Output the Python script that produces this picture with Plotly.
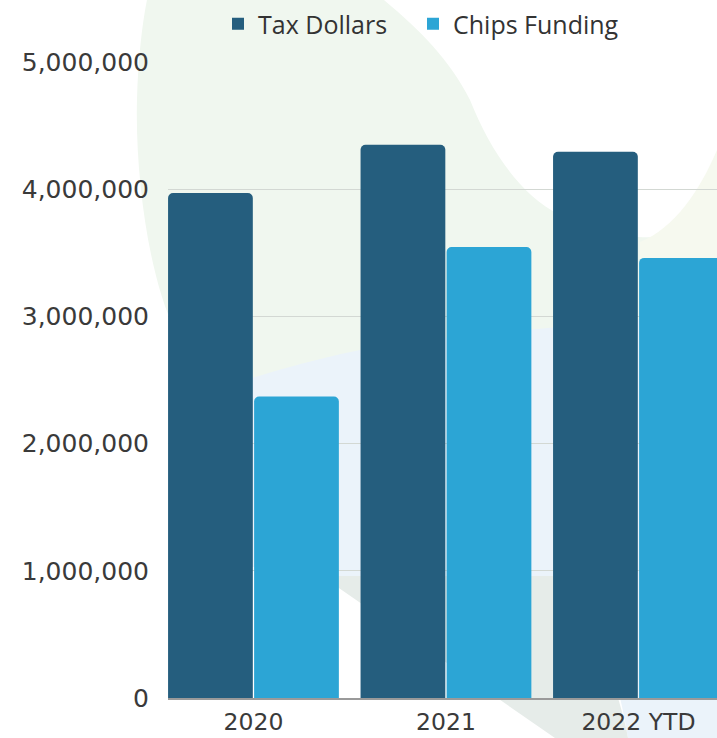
import plotly.graph_objects as go

# Yearly totals
years = ["2020", "2021", "2022 YTD"]
tax_dollars = [3970000, 4350000, 4295000]
chips_funding = [2370000, 3545000, 3460000]

y_ticks = [0, 1000000, 2000000, 3000000, 4000000, 5000000]
y_tick_labels = ["0", "1,000,000", "2,000,000", "3,000,000", "4,000,000", "5,000,000"]

series_names = ["Tax Dollars", "Chips Funding"]
series_values = [tax_dollars, chips_funding]
series_colors = ["#255E7E", "#2CA5D5"]

FIG_W, FIG_H = 717, 738
M_L, M_R, M_T, M_B = 168, 0, 62, 40
PLOT_W = FIG_W - M_L - M_R
PLOT_H = FIG_H - M_T - M_B

TEXT_COLOR = "#3A3A3A"


def blob(spec):
    """Build an SVG path in paper units from page-pixel points."""
    parts = []
    for cmd, pts in spec:
        coords = " ".join(
            f"{(x - M_L) / PLOT_W:.4f},{(FIG_H - M_B - y) / PLOT_H:.4f}" for x, y in pts
        )
        parts.append(f"{cmd}{coords}")
    return " ".join(parts) + " Z"


# Soft decorative backdrop shapes
backdrop = [
    ("#F0F7EF", [
        ("M", [(147, 0)]), ("L", [(384, 0)]),
        ("C", [(420, 30), (450, 60), (470, 100)]),
        ("C", [(490, 150), (520, 195), (560, 215)]),
        ("C", [(600, 235), (640, 240), (665, 236)]),
        ("L", [(717, 240)]), ("L", [(717, 340)]), ("L", [(230, 390)]), ("L", [(175, 330)]),
        ("C", [(150, 280), (135, 180), (137, 100)]),
        ("C", [(138, 60), (142, 25), (147, 0)]),
    ]),
    ("#F6F9EF", [
        ("M", [(640, 242)]),
        ("C", [(675, 228), (700, 190), (717, 150)]),
        ("L", [(717, 320)]), ("L", [(640, 325)]),
    ]),
    ("#EBF3FA", [
        ("M", [(200, 395)]),
        ("C", [(260, 375), (330, 352), (420, 340)]),
        ("L", [(717, 312)]), ("L", [(717, 738)]), ("L", [(628, 738)]),
        ("C", [(625, 720), (622, 705), (618, 690)]),
        ("L", [(600, 577)]), ("L", [(330, 577)]), ("L", [(200, 560)]),
    ]),
    ("#E6ECE9", [
        ("M", [(325, 576)]), ("L", [(610, 576)]), ("L", [(618, 698)]),
        ("C", [(622, 712), (626, 725), (628, 738)]),
        ("L", [(555, 738)]), ("L", [(336, 586)]),
    ]),
]

shapes = [
    dict(type="path", xref="paper", yref="paper", path=blob(spec),
         fillcolor=color, line=dict(width=0), layer="below")
    for color, spec in backdrop
]

fig = go.Figure()
for name, vals, color in zip(series_names, series_values, series_colors):
    fig.add_trace(go.Bar(name=name, x=years, y=vals, showlegend=False,
                         marker=dict(color=color, line=dict(width=0))))

# Square legend keys, one legend box per series
legend_ids = ["legend", "legend2"]
legend_left_px = [218, 413]
for name, color, lid in zip(series_names, series_colors, legend_ids):
    fig.add_trace(go.Scatter(name=name, x=[None], y=[None], mode="markers",
                             marker=dict(symbol="square", size=12, color=color),
                             showlegend=True, legend=lid))

legend_style = dict(
    orientation="h", xanchor="left",
    y=1 + (M_T - 24) / PLOT_H, yanchor="middle",
    font=dict(family="Open Sans", size=25, color="#333333"),
    bgcolor="rgba(0,0,0,0)", itemwidth=30,
)

fig.update_layout(
    width=FIG_W, height=FIG_H,
    margin=dict(l=M_L, r=M_R, t=M_T, b=M_B, pad=0, autoexpand=False),
    paper_bgcolor="white",
    plot_bgcolor="rgba(0,0,0,0)",
    barmode="group",
    bargap=0.106,
    bargroupgap=0.015,
    barcornerradius=5,
    shapes=shapes,
    font=dict(family="DejaVu Sans", size=24, color=TEXT_COLOR),
    showlegend=True,
    legend=dict(x=(legend_left_px[0] - M_L) / PLOT_W, **legend_style),
    legend2=dict(x=(legend_left_px[1] - M_L) / PLOT_W, **legend_style),
    xaxis=dict(
        range=[-0.444, 2.408],
        showgrid=False, zeroline=False,
        showline=True, linecolor="#9A9A9A", linewidth=1.5,
        ticks="", ticklabelstandoff=2, automargin=False,
        tickfont=dict(family="DejaVu Sans", size=23.5, color=TEXT_COLOR),
        fixedrange=True,
    ),
    yaxis=dict(
        range=[0, 5000000],
        tickvals=y_ticks, ticktext=y_tick_labels,
        showgrid=True, gridcolor="#D3D8D3", gridwidth=1,
        zeroline=False, showline=False,
        ticks="", ticklabelstandoff=18, automargin=False,
        tickfont=dict(family="DejaVu Sans", size=25, color=TEXT_COLOR),
        fixedrange=True,
    ),
)

fig.write_html("out.html")
